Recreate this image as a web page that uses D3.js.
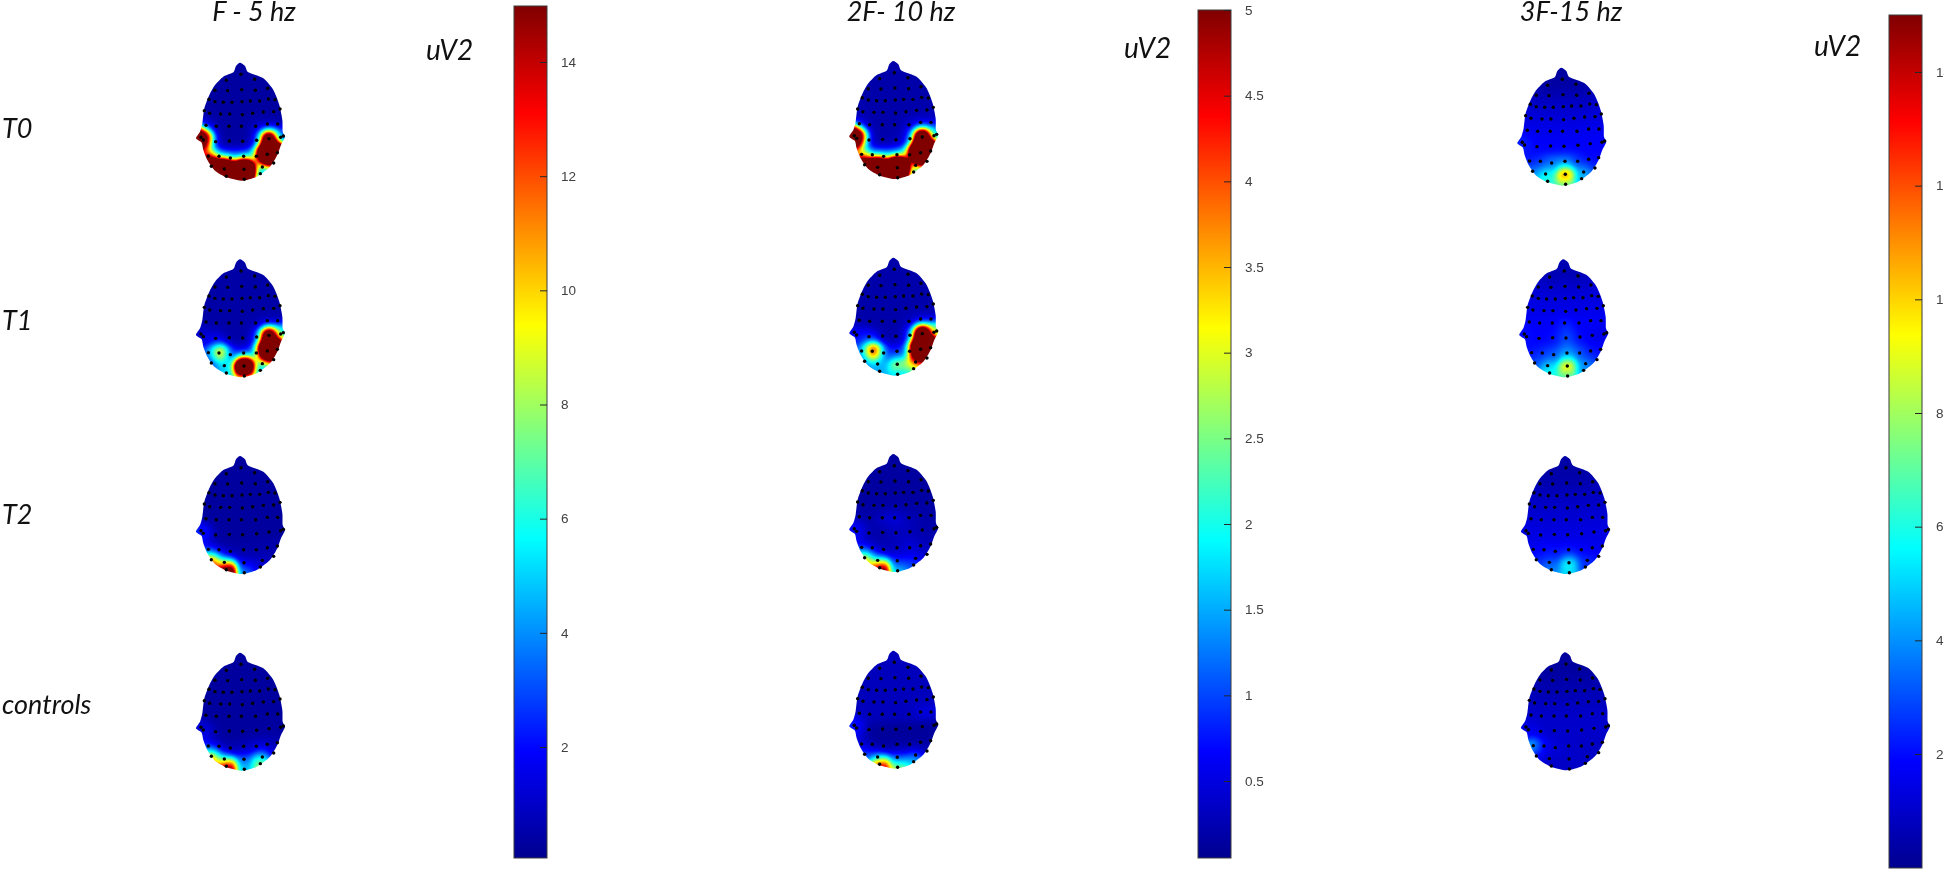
<!DOCTYPE html>
<html>
<head>
<meta charset="utf-8">
<script src="https://cdn.jsdelivr.net/npm/d3@7"></script>
<style>
  html, body { margin: 0; padding: 0; background: #fff; }
  #wrap { position: relative; width: 1944px; height: 870px; overflow: hidden; }
  canvas, svg { position: absolute; left: 0; top: 0; }
</style>
</head>
<body>
<div id="wrap">
  <canvas id="heads" width="1944" height="870"></canvas>
  <svg id="chart" width="1944" height="870"></svg>
</div>
<script>
// chart content
let columnTitles = ["F - 5 hz", "2F- 10 hz", "3F-15 hz"];
let rowLabels = ["T0", "T1", "T2", "controls"];
let unitLabel = "uV2";

let ticksF = [2, 4, 6, 8, 10, 12, 14];
let ticks2F = [0.5, 1, 1.5, 2, 2.5, 3, 3.5, 4, 4.5, 5];
let ticks3F = [2, 4, 6, 8, 10, 12, 14];

let rangeF = [0, 15];
let range2F = [0.05, 5];
let range3F = [0, 15];

// electrode montage, row by row from nose to back of the head
let electrodes = [
    [213,103],[169,121],[254,118],
    [135,151],[173,152],[215,149],[256,151],[293,145],
    [117,178],[135,185],[160,187],[186,187],[216,185],[241,183],[269,183],[295,177],[315,179],
    [103,212],[119,220],[152,222],[179,222],[217,224],[248,220],[280,216],[311,215],[330,207],
    [108,256],[139,259],[177,259],[214,259],[257,259],[292,252],[323,252],
    [93,292],[100,300],[137,305],[178,303],[218,304],[260,301],[297,296],[332,292],[340,288],
    [115,348],[147,349],[181,354],[221,349],[259,349],[292,343],[322,338],
    [124,379],[163,387],[222,388],[277,381],[311,369],
    [169,409],[223,418],[271,401]
];

let headOutline = [
    [210,68],[198,78],[190,97],[160,110],[135,135],[118,165],[103,205],[97,250],[90,275],[78,295],
    [95,308],[100,330],[112,360],[135,392],[170,412],[215,422],[260,410],[300,380],[322,345],[333,315],
    [345,290],[338,275],[337,240],[328,195],[310,150],[280,115],[235,97],[225,78]
];

// power at each electrode, same order as the montage
let fT0 = [
    .3,.3,.3,
    .3,.3,.3,.3,.3,
    .3,.3,.3,.3,.3,.3,.3,.3,.3,
    .5,.3,.3,.3,.3,.3,.3,.3,.3,
    1.5,.3,.3,.3,1,.6,.5,
    30,12,.3,.3,.3,1,30,3,2,
    12,2.5,3,3,5,60,40,
    40,60,60,6,4,
    20,12,3
];
let fT1 = [
    .4,.4,.4,
    .4,.4,.4,.4,.4,
    .4,.4,.4,.4,.4,.4,.4,.4,.4,
    .4,.4,.4,.4,.4,.4,.4,.4,.4,
    .4,.4,.4,.4,.6,.6,.5,
    .8,1.5,1.5,.4,.4,1.5,30,5,6,
    3,13,2,1.5,3,50,40,
    2,5,40,6,5,
    5,4,4
];
let fT2 = [
    .25,.25,.25,
    .25,.25,.25,.25,.25,
    .25,.25,.25,.25,.25,.25,.25,.25,.25,
    .25,.25,.25,.25,.25,.25,.25,.25,.25,
    .25,.25,.25,.25,.25,.25,.25,
    3,1.5,.25,.25,.25,.25,.25,.25,.25,
    1.5,.4,.4,.4,.4,.5,.5,
    15,4,1.2,.8,.5,
    25,4,1.5
];
let fControls = [
    .25,.25,.25,
    .25,.25,.25,.25,.25,
    .25,.25,.25,.25,.25,.25,.25,.25,.25,
    .25,.25,.25,.25,.25,.25,.25,.25,.25,
    .25,.25,.25,.25,.25,.25,.25,
    .8,2,.3,.25,.25,.3,.3,.3,.3,
    1.5,.4,.4,.6,1,.8,.5,
    13,3,3,5,1,
    20,5,9
];
let f2T0 = [
    .2,.2,.2,
    .2,.2,.2,.2,.2,
    .2,.2,.2,.2,.2,.2,.2,.2,.2,
    .3,.2,.2,.2,.2,.2,.2,.2,.3,
    .5,.2,.2,.2,.4,.5,.4,
    12,4,.2,.2,.25,.6,12,1.5,1.5,
    3,.8,1.2,1.2,2.5,25,15,
    10,20,25,3,2,
    6,3,1.2
];
let f2T1 = [
    .2,.2,.2,
    .2,.2,.2,.2,.2,
    .2,.2,.2,.2,.2,.2,.2,.2,.2,
    .2,.2,.2,.2,.2,.2,.2,.2,.2,
    .2,.2,.2,.2,.3,.4,.4,
    .3,1,.8,.2,.2,.6,12,2,3,
    1,6,.8,.7,1.2,20,15,
    1,1.5,3,5,2,
    1.5,1.5,1.5
];
let f2T2 = [
    .15,.15,.15,
    .15,.15,.15,.15,.15,
    .15,.15,.15,.15,.15,.15,.15,.15,.15,
    .15,.15,.15,.15,.2,.15,.15,.15,.15,
    .2,.2,.4,.5,.3,.2,.2,
    .8,.5,.2,.2,.3,.3,.2,.2,.2,
    .6,.25,.25,.3,.5,.3,.25,
    4,1,.7,.5,.4,
    7,1.8,1.2
];
let f2Controls = [
    .3,.3,.3,
    .3,.3,.3,.3,.3,
    .3,.3,.3,.3,.3,.3,.3,.3,.3,
    .3,.3,.3,.3,.3,.3,.3,.3,.3,
    .3,.3,.3,.3,.3,.5,.6,
    1,.5,.1,.1,.1,.1,.1,.1,.2,
    .4,.12,.12,.15,.15,.12,.12,
    1.2,.7,.8,.8,.3,
    6,3,2
];
let f3T0 = [
    .3,.3,.3,
    .6,.6,.6,.6,.6,
    1,1,1,1,1,1,1,1,1,
    1.3,1.3,1.3,1.3,1.3,1.3,1.3,1.3,1.3,
    1.6,1.6,1.6,1.6,1.6,1.6,1.6,
    2.5,2,1.8,1.8,1.8,1.8,1.8,1.8,1.8,
    2,2.5,3.5,3.5,2.5,1.8,1.8,
    4,6,13,5,2.5,
    6,6,4
];
let f3T1 = [
    .6,.6,.6,
    1,1,1,1,1,
    1.3,1.3,1.3,1.3,1.3,1.3,1.3,1.3,1.3,
    1.5,1.5,1.5,1.5,1.5,1.5,1.5,1.5,1.5,
    1.8,1.8,1.8,2.5,1.8,1.8,1.8,
    2,2,1.8,2,3,2,1.5,1.5,1.5,
    2,2.5,3,4,3,2,1.8,
    3,5,11,4,2.5,
    6,6,4
];
let f3T2 = [
    .4,.4,.4,
    .5,.5,.5,.5,.5,
    .8,.8,.8,.8,.8,.8,.8,.8,.8,
    1,1,1,1,1,1,1,1,1,
    1.2,1.2,1.2,1.2,1.2,1.2,1.2,
    1.4,1.4,1.4,1.4,1.4,1.4,1.4,1.4,1.4,
    1.5,2,2,2,1.8,1.5,1.5,
    2.5,3,6,2.5,2,
    4,5,2.5
];
let f3Controls = [
    .25,.25,.25,
    .4,.4,.4,.4,.4,
    .6,.6,.6,.6,.6,.6,.6,.6,.6,
    .8,.8,.8,.8,.8,.8,.8,.8,.8,
    1,1,1,1,1,1,1,
    1,2,1,1,1,1,1,1,1,
    5,1.5,1.2,1,.9,.9,.9,
    1.5,1,1,.9,.9,
    .9,.9,.9
];

let columnValues = [
    [fT0, fT1, fT2, fControls],
    [f2T0, f2T1, f2T2, f2Controls],
    [f3T0, f3T1, f3T2, f3Controls]
];
let columnRanges = [rangeF, range2F, range3F];
let columnTicks = [ticksF, ticks2F, ticks3F];

// layout
let headOrigins = [
    [[241, 74.3], [241, 271], [241, 467.7], [241, 664.3]],
    [[894.3, 72.7], [894.3, 269.3], [894.3, 465.7], [894.3, 662.3]],
    [[1562.3, 79.3], [1564.3, 271], [1566, 467.7], [1566, 664]]
];
let titleX = [254, 901, 1571];
let titleY = 21;
let rowLabelY = [138, 330, 524, 714];
let unitX = [426, 1124, 1814];
let unitY = [60, 58, 56];
let bars = [
    {left: 514, right: 547, top: 6, bottom: 858},
    {left: 1198, right: 1231, top: 10, bottom: 858},
    {left: 1889, right: 1922, top: 15, bottom: 868}
];
let barScales = [
    d3.scaleLinear().domain([2, 14]).range([747, 62]),
    d3.scaleLinear().domain([0.5, 5]).range([781, 10]),
    d3.scaleLinear().domain([2, 14]).range([754, 72])
];
let sigma = 6.5;

let jetStops = ["#00008f", "#0000ff", "#00ffff", "#ffff00", "#ff0000", "#800000"];
let jetOffsets = [0, 0.125, 0.375, 0.625, 0.875, 1];

function jetScale(range) {
    let t = d3.scaleLinear().domain(range).range([0, 1]).clamp(true);
    let c = d3.scaleLinear().domain(jetOffsets).range(jetStops);
    return v => c(t(v));
}

let canvas = document.getElementById("heads");
let ctx = canvas.getContext("2d");
let svg = d3.select("#chart");

function drawHead(values, origin, range) {
    let x = d3.scaleLinear().domain([213, 216]).range([origin[0], origin[0] + 1]);
    let y = d3.scaleLinear().domain([103, 106]).range([origin[1], origin[1] + 1]);
    let color = jetScale(range);

    let pts = electrodes.map(e => [x(e[0]), y(e[1])]);
    let outline = headOutline.map(p => [x(p[0]), y(p[1])]);

    let left = Math.floor(d3.min(outline, p => p[0])) - 4;
    let top = Math.floor(d3.min(outline, p => p[1])) - 4;
    let w = Math.ceil(d3.max(outline, p => p[0])) + 4 - left;
    let h = Math.ceil(d3.max(outline, p => p[1])) + 4 - top;

    let off = document.createElement("canvas");
    off.width = w;
    off.height = h;
    let offCtx = off.getContext("2d");
    let img = offCtx.createImageData(w, h);
    for (let j = 0; j < h; j++) {
        for (let i = 0; i < w; i++) {
            let sum = 0, weight = 0;
            pts.forEach((p, k) => {
                let dx = left + i - p[0], dy = top + j - p[1];
                let g = Math.exp(-(dx * dx + dy * dy) / (2 * sigma * sigma)) + 1e-9;
                sum += g * values[k];
                weight += g;
            });
            let c = d3.rgb(color(sum / weight));
            let n = (j * w + i) * 4;
            img.data[n] = c.r;
            img.data[n + 1] = c.g;
            img.data[n + 2] = c.b;
            img.data[n + 3] = 255;
        }
    }
    offCtx.putImageData(img, 0, 0);

    let clipLine = d3.line().curve(d3.curveCardinalClosed.tension(0.3));
    ctx.save();
    ctx.filter = "blur(0.6px)";
    ctx.clip(new Path2D(clipLine(outline)));
    ctx.drawImage(off, left, top);
    ctx.restore();

    svg.append("g")
        .selectAll("circle")
        .data(pts)
        .enter()
        .append("circle")
        .attr("cx", d => d[0])
        .attr("cy", d => d[1])
        .attr("r", 1.7)
        .attr("fill", "#000");
}

function drawBar(i) {
    let b = bars[i];
    let id = "jet" + i;
    let grad = svg.append("defs").append("linearGradient")
        .attr("id", id)
        .attr("x1", 0).attr("x2", 0).attr("y1", 1).attr("y2", 0);
    grad.selectAll("stop")
        .data(jetStops)
        .enter()
        .append("stop")
        .attr("offset", (d, k) => jetOffsets[k])
        .attr("stop-color", d => d);

    svg.append("rect")
        .attr("x", b.left)
        .attr("y", b.top)
        .attr("width", b.right - b.left)
        .attr("height", b.bottom - b.top)
        .attr("fill", "url(#" + id + ")")
        .attr("stroke", "#3c3c3c")
        .attr("stroke-width", 1);

    let axis = svg.append("g")
        .attr("transform", "translate(" + b.right + ",0)")
        .call(d3.axisRight(barScales[i])
            .tickValues(columnTicks[i])
            .tickFormat(d => d)
            .tickSize(-7)
            .tickPadding(14));
    axis.select(".domain").remove();
    axis.selectAll("line").attr("stroke", "#262626");
    axis.selectAll("text")
        .attr("fill", "#404040")
        .style("font-family", "'Liberation Sans', Arial, sans-serif")
        .style("font-size", "13.5px");
}

columnValues.forEach((col, c) => {
    col.forEach((values, r) => drawHead(values, headOrigins[c][r], columnRanges[c]));
    drawBar(c);
});

let labelFont = "Lato, 'Open Sans', sans-serif";

svg.selectAll(".title")
    .data(columnTitles)
    .enter()
    .append("text")
    .attr("class", "title")
    .attr("x", (d, i) => titleX[i])
    .attr("y", titleY)
    .attr("text-anchor", "middle")
    .attr("font-family", labelFont)
    .attr("font-style", "italic")
    .attr("font-size", 27)
    .attr("fill", "#111")
    .text(d => d);

svg.selectAll(".row")
    .data(rowLabels)
    .enter()
    .append("text")
    .attr("class", "row")
    .attr("x", 2)
    .attr("y", (d, i) => rowLabelY[i])
    .attr("font-family", labelFont)
    .attr("font-style", "italic")
    .attr("font-size", 27)
    .attr("fill", "#111")
    .text(d => d);

svg.selectAll(".unit")
    .data(unitX)
    .enter()
    .append("text")
    .attr("class", "unit")
    .attr("x", d => d)
    .attr("y", (d, i) => unitY[i])
    .attr("font-family", labelFont)
    .attr("font-style", "italic")
    .attr("font-size", 28)
    .attr("fill", "#111")
    .text(unitLabel);
</script>
</body>
</html>
